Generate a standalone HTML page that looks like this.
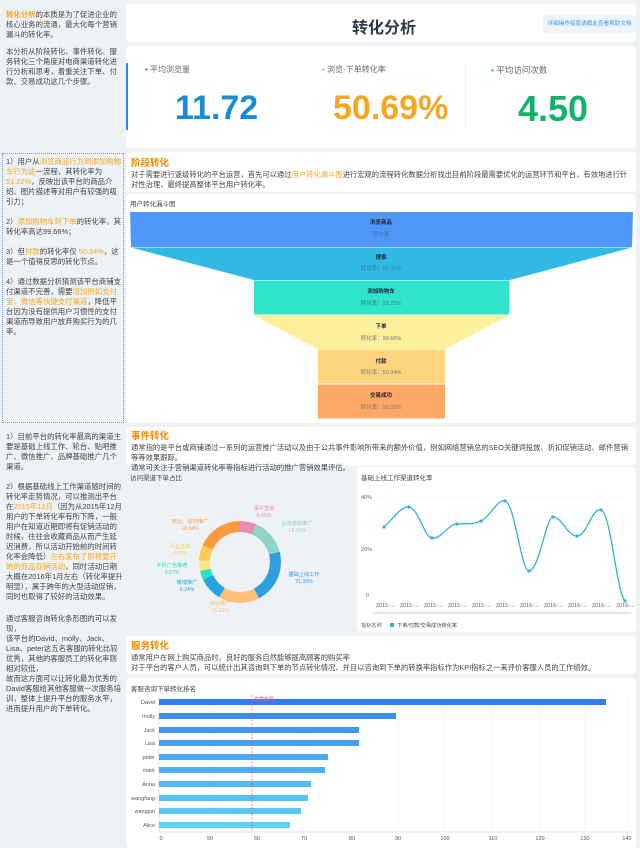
<!DOCTYPE html>
<html><head><meta charset="utf-8">
<style>
*{margin:0;padding:0;box-sizing:border-box}
body{width:640px;height:843px;background:#eef2f5;position:relative;overflow:hidden;font-family:"Liberation Sans","Noto Sans CJK SC",sans-serif;color:#333}
.a{position:absolute}
.card{position:absolute;background:#fff;border-radius:4px}
.lt{position:absolute;left:6px;width:118px;font-size:7.4px;line-height:10px;color:#444}
.o{color:#f5a623}
.st{font-size:7.3px;line-height:10px;color:#444}
.h{color:#f08c00;font-weight:bold;font-size:9.5px;line-height:12px}
</style></head><body>

<div class="lt" style="top:10px"><span class="o" style="font-weight:bold">转化分析</span>的本质是为了促进企业的核心业务的流通，最大化每个营销漏斗的转化率。</div>
<div class="lt" style="top:47px">本分析从阶段转化、事件转化、服务转化三个角度对电商渠道转化进行分析和思考，着重关注下单、付款、交易成功这几个步骤。</div>

<div class="a" style="left:2px;top:153px;width:122px;height:270px;border:1px dotted #6a9be0"></div>
<div class="lt" style="top:157px">1）用户从<span class="o">浏览商品行为到添加购物车行为这</span>一流程，其转化率为<span class="o">51.22%</span>，反映出该平台的商品介绍、图片描述等对用户有较强的吸引力；<br><br>2）<span class="o">添加购物车到下单</span>的转化率，其转化率高达99.66%；<br><br>3）但<span class="o">付款</span>的转化率仅 <span class="o">50.34%</span>，这是一个值得反思的转化节点。<br><br>4）通过数据分析猜测该平台商铺支付渠道不完善，需要<span class="o">增加例如支付宝、微信等快捷支付渠道</span>，降低平台因为没有提供用户习惯性的支付渠道而导致用户放弃购买行为的几率。</div>

<div class="lt" style="top:432px">1）目前平台的转化率最高的渠道主要是基础上线工作、轮台、贴吧推广、微信推广、品牌基础推广几个渠道。<br><br>2）根据基础线上工作渠道随时间的转化率走势情况，可以推测出平台在<span class="o">2015年12月</span>（因为从2015年12月用户的下单转化率有所下降，一般用户在知道近期即将有促销活动的时候，往往会收藏商品从而产生延迟消费，所以活动开始前的时间转化率会降低）<span class="o">左右发布了即将要开始的商品促销活动</span>，同时活动日期大概在2016年1月左右（转化率提升明显），属于跨年的大型活动促销，同时也取得了较好的活动效果。</div>

<div class="lt" style="top:614px">通过客服咨询转化条形图的可以发现，<br>该平台的David、molly、Jack、Lisa、peter这五名客服的转化比较优秀，其他的客服员工的转化率则相对较低，<br>故而这方面可以让转化最为优秀的David客服给其他客服做一次服务培训，整体上提升平台的服务水平，进而提升用户的下单转化。</div>

<!-- header -->
<div class="card" style="left:126px;top:4px;width:510px;height:38px"></div>
<div class="a" style="left:352px;top:14px;font-size:16px;font-weight:bold;color:#2d3a4b">转化分析</div>
<div class="a" style="left:543px;top:15px;width:93px;height:18px;background:#eef5fd;color:#4a90e2;font-size:5.6px;line-height:18px;text-align:center">详细操作指南请戳此查看帮助文档</div>

<!-- KPI -->
<div class="card" style="left:126px;top:46px;width:510px;height:102px"></div>
<div class="a" style="left:126px;top:63px;width:2px;height:67px;background:#3a86f0"></div>
<div class="a" style="left:465px;top:62px;width:1px;height:68px;background:#f0f0f0"></div>
<div class="a" style="left:145px;top:64px;font-size:8px;color:#666">• 平均浏览量</div>
<div class="a" style="left:322px;top:64px;font-size:8px;color:#666"><span style="color:#f5a623">•</span> 浏览-下单转化率</div>
<div class="a" style="left:491px;top:64px;font-size:8.5px;color:#666"><span style="color:#13b26b">•</span> 平均访问次数</div>
<div class="a" style="left:175px;top:89px;font-size:34px;font-weight:bold;color:#1a8bd6">11.72</div>
<div class="a" style="left:333px;top:89px;font-size:34px;font-weight:bold;color:#f5a623">50.69%</div>
<div class="a" style="left:518px;top:88px;font-size:36px;font-weight:bold;color:#13b26b">4.50</div>

<!-- stage text -->
<div class="card" style="left:126px;top:152px;width:510px;height:40px"></div>
<div class="a" style="left:131px;top:158px;width:500px"><div class="h">阶段转化</div><div class="st">对于需要进行逐级转化的平台运营，首先可以通过<span class="o">用户转化漏斗图</span>进行宏观的流程转化数据分析找出目前阶段最需要优化的运营环节和平台，有效地进行针对性治理，最终提高整体平台用户转化率。</div></div>

<!-- funnel -->
<div class="card" style="left:126px;top:194px;width:510px;height:229px"></div>
<div class="a" style="left:130px;top:198px;font-size:6.5px;color:#444">用户转化漏斗图</div>
<svg class="a" style="left:0;top:0" width="640" height="843">
<polygon points="130,212 633,212 632,247 131,247" fill="#5098f8"/>
<polygon points="131,247.5 632,247.5 510,280 254,280" fill="#31b8e3"/>
<rect x="254" y="280.5" width="255" height="34" fill="#30e3cb"/>
<polygon points="254,315.5 509,315.5 445,349 318,349" fill="#fdf09a"/>
<rect x="318" y="349.5" width="127" height="34" fill="#fdd57e"/>
<rect x="318" y="384.5" width="127" height="34" fill="#fda866"/>
<g font-size="5.5" text-anchor="middle" font-family="Liberation Sans,Noto Sans CJK SC,sans-serif">
<text x="381" y="224" font-weight="bold" fill="#223">浏览商品</text><text x="381" y="236" fill="#3c6fb0">转化率</text>
<text x="381" y="259" font-weight="bold" fill="#223">搜索</text><text x="381" y="270" fill="#2a7e9e">转化率：99.31%</text>
<text x="381" y="293" font-weight="bold" fill="#223">添加购物车</text><text x="381" y="305" fill="#2a8e80">转化率：51.22%</text>
<text x="381" y="328" font-weight="bold" fill="#223">下单</text><text x="381" y="340" fill="#777">转化率：99.66%</text>
<text x="381" y="363" font-weight="bold" fill="#223">付款</text><text x="381" y="374" fill="#777">转化率：50.34%</text>
<text x="381" y="397" font-weight="bold" fill="#223">交易成功</text><text x="381" y="409" fill="#777">转化率：99.32%</text>
</g>
</svg>

<!-- event text -->
<div class="card" style="left:126px;top:427px;width:510px;height:39px"></div>
<div class="a" style="left:131px;top:431px;width:500px"><div class="h">事件转化</div><div class="st">通常指的是平台或商铺通过一系列的运营推广活动以及由于公共事件影响所带来的额外价值，例如网络营销总的SEO关键词投放、折扣促销活动、邮件营销等等效果跟踪。<br>通常可关注于营销渠道转化率等指标进行活动的推广营销效果评估。</div></div>
<div class="card" style="left:357px;top:467px;width:279px;height:165px"></div>
<div class="a" style="left:130px;top:472px;font-size:6.5px;color:#444">访问渠道下单占比</div>
<div class="a" style="left:361px;top:472px;font-size:6.5px;color:#444">基础上线工作渠道转化率</div>

<svg class="a" style="left:0;top:0" width="640" height="843" font-family="Liberation Sans,Noto Sans CJK SC,sans-serif">
<g fill="none" stroke-width="11" transform="rotate(-90 240 562)">
<circle cx="240" cy="562" r="35.5" stroke="#e88fb0" stroke-dasharray="14.4 300" stroke-dashoffset="0"/>
<circle cx="240" cy="562" r="35.5" stroke="#8fd3c8" stroke-dasharray="32.2 300" stroke-dashoffset="-14.4"/>
<circle cx="240" cy="562" r="35.5" stroke="#2fa0dd" stroke-dasharray="47.7 300" stroke-dashoffset="-46.6"/>
<circle cx="240" cy="562" r="35.5" stroke="#fdc07c" stroke-dasharray="36 300" stroke-dashoffset="-94.3"/>
<circle cx="240" cy="562" r="35.5" stroke="#27a4e0" stroke-dasharray="20.8 300" stroke-dashoffset="-130.3"/>
<circle cx="240" cy="562" r="35.5" stroke="#2de0c0" stroke-dasharray="8 300" stroke-dashoffset="-151.1"/>
<circle cx="240" cy="562" r="35.5" stroke="#fde883" stroke-dasharray="9.1 300" stroke-dashoffset="-159.1"/>
<circle cx="240" cy="562" r="35.5" stroke="#fdcd55" stroke-dasharray="14 300" stroke-dashoffset="-168.2"/>
<circle cx="240" cy="562" r="35.5" stroke="#fd9a40" stroke-dasharray="40.9 300" stroke-dashoffset="-182.2"/>
</g>
<g font-size="5.2" text-anchor="middle">
<text x="264" y="510" fill="#e88fb0">事件营销</text><text x="264" y="517" fill="#e88fb0">6.45%</text>
<text x="297" y="525" fill="#8fd3c8">品牌基础推广</text><text x="297" y="532" fill="#8fd3c8">14.43%</text>
<text x="304" y="576" fill="#2fa0dd">基础上线工作</text><text x="304" y="583" fill="#2fa0dd">21.39%</text>
<text x="220" y="605" fill="#fdc07c">微信推广</text><text x="220" y="612" fill="#fdc07c">16.13%</text>
<text x="187" y="584" fill="#27a4e0">微博推广</text><text x="187" y="591" fill="#27a4e0">9.34%</text>
<text x="172" y="567" fill="#2de0c0">手机广告推荐</text><text x="172" y="574" fill="#2de0c0">3.57%</text>
<text x="180" y="548" fill="#fdc94e">行业论坛</text><text x="180" y="555" fill="#fdc94e">4.07%</text>
<text x="190" y="523" fill="#fd9a40">软台、贴吧推广</text><text x="190" y="530" fill="#fd9a40">18.34%</text>
</g>
<!-- line chart -->
<g stroke="#f2f2f2" stroke-width="0.6"><line x1="376" y1="497" x2="631" y2="497"/><line x1="376" y1="549" x2="631" y2="549"/><line x1="376" y1="595" x2="631" y2="595"/></g>
<g font-size="5.5" fill="#666"><text x="361" y="499">40%</text><text x="361" y="551">20%</text><text x="366" y="597">0</text>
<text x="376" y="607">2015-...</text><text x="400" y="607">2015-...</text><text x="424" y="607">2015-...</text><text x="448" y="607">2015-...</text><text x="472" y="607">2015-...</text><text x="496" y="607">2015-...</text><text x="520" y="607">2016-...</text><text x="544" y="607">2016-...</text><text x="568" y="607">2016-...</text><text x="592" y="607">2016-...</text><text x="616" y="607">2016-...</text></g>
<path d="M384,527 C394,518 401,506 409,507 C419,509 424,537 432,538 C442,539 448,524 457,524 C466,523 472,525 481,521 C491,516 497,499 505,501 C515,503 521,571 529,571 C539,571 546,517 553,517 C563,518 567,536 577,536 C587,536 592,507 601,510 C611,513 616,590 625,601" fill="none" stroke="#2eb3d6" stroke-width="1.3"/>
<g fill="#2eb3d6"><circle cx="384" cy="527" r="1.6"/><circle cx="409" cy="507" r="1.6"/><circle cx="432" cy="538" r="1.6"/><circle cx="457" cy="524" r="1.6"/><circle cx="481" cy="521" r="1.6"/><circle cx="505" cy="501" r="1.6"/><circle cx="529" cy="571" r="1.6"/><circle cx="553" cy="517" r="1.6"/><circle cx="577" cy="536" r="1.6"/><circle cx="601" cy="510" r="1.6"/><circle cx="625" cy="601" r="1.6"/></g>
<line x1="373" y1="613" x2="631" y2="613" stroke="#e4e6ea" stroke-width="2"/>
<text x="361" y="627" font-size="5.2" fill="#666">指标名称</text>
<rect x="390" y="623" width="4" height="4" fill="#2eb3d6"/>
<text x="397" y="627" font-size="5.2" fill="#444">下单/付款/交易成功转化率</text>
</svg>

<!-- service text -->
<div class="card" style="left:126px;top:636px;width:510px;height:38px"></div>
<div class="a" style="left:131px;top:641px;width:500px"><div class="h">服务转化</div><div class="st">通常用户在网上购买商品时，良好的服务自然能够提高顾客的购买率<br>对于平台的客户人员，可以统计出其咨询到下单的节点转化情况，并且以咨询到下单的转换率指标作为KPI指标之一来评价客服人员的工作绩效。</div></div>
<div class="card" style="left:126px;top:678px;width:510px;height:170px"></div>
<div class="a" style="left:131px;top:683px;font-size:6.5px;color:#444">客服咨询下单转化排名</div>
<svg class="a" style="left:0;top:0" width="640" height="843" font-family="Liberation Sans,Noto Sans CJK SC,sans-serif">
<g stroke="#f0f2f4" stroke-width="0.6"><line x1="210" y1="695" x2="210" y2="832"/><line x1="304" y1="695" x2="304" y2="832"/><line x1="352" y1="695" x2="352" y2="832"/><line x1="398" y1="695" x2="398" y2="832"/><line x1="445" y1="695" x2="445" y2="832"/><line x1="493" y1="695" x2="493" y2="832"/><line x1="540" y1="695" x2="540" y2="832"/><line x1="585" y1="695" x2="585" y2="832"/><line x1="627" y1="695" x2="627" y2="832"/></g>
<line x1="159" y1="695" x2="159" y2="832" stroke="#ccc" stroke-width="0.6"/>
<line x1="159" y1="832" x2="630" y2="832" stroke="#ccc" stroke-width="0.6"/>
<g>
<rect x="159" y="699" width="447" height="6" fill="#2f7ef0"/>
<rect x="159" y="713" width="237" height="6" fill="#3b8ef2"/>
<rect x="159" y="727" width="200" height="6" fill="#4198f3"/>
<rect x="159" y="740" width="200" height="6" fill="#45a0f4"/>
<rect x="159" y="754" width="169" height="6" fill="#49a8f4"/>
<rect x="159" y="767" width="166" height="6" fill="#4db0f5"/>
<rect x="159" y="781" width="152" height="6" fill="#51b9f5"/>
<rect x="159" y="795" width="149" height="6" fill="#55c1f5"/>
<rect x="159" y="808" width="142" height="6" fill="#58c9f6"/>
<rect x="159" y="822" width="131" height="6" fill="#5dd2f6"/>
</g>
<line x1="252" y1="695" x2="252" y2="832" stroke="#e55" stroke-width="0.7" stroke-dasharray="2 1.5"/>
<text x="254" y="701" font-size="5" fill="#e55">优秀客服</text>
<g font-size="5.5" fill="#555" text-anchor="end">
<text x="155" y="704">David</text><text x="155" y="718">molly</text><text x="155" y="732">Jack</text><text x="155" y="745">Lisa</text><text x="155" y="759">peter</text><text x="155" y="772">mark</text><text x="155" y="786">Anna</text><text x="155" y="800">wangfang</text><text x="155" y="813">wangjun</text><text x="155" y="827">Alice</text>
</g>
<g font-size="5.5" fill="#555" text-anchor="middle">
<text x="161" y="840">0</text><text x="210" y="840">50</text><text x="257" y="840">60</text><text x="304" y="840">70</text><text x="352" y="840">80</text><text x="398" y="840">90</text><text x="445" y="840">100</text><text x="493" y="840">110</text><text x="540" y="840">120</text><text x="585" y="840">130</text><text x="627" y="840">140</text>
</g>
</svg>
</body></html>
